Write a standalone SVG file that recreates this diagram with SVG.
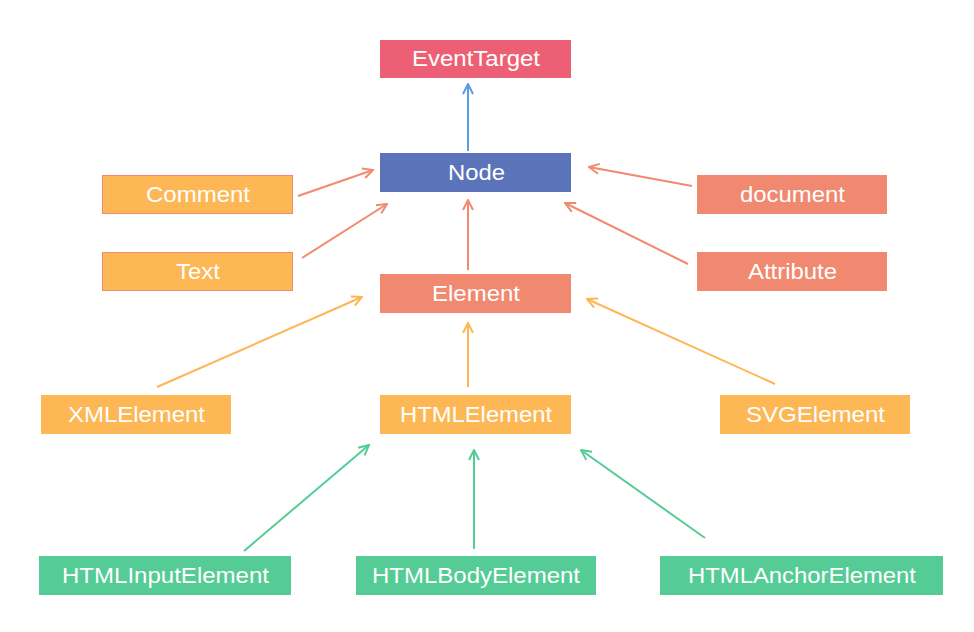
<svg xmlns="http://www.w3.org/2000/svg" width="974" height="632" viewBox="0 0 974 632">
<style>
.lbl{font-family:"Liberation Sans",Arial,sans-serif;font-size:21.5px;fill:#fff;text-anchor:middle;dominant-baseline:central}
.c{fill:none;stroke-width:2}
</style>
<defs>
<marker id="mb" viewBox="0 0 12 12" refX="11" refY="6" markerWidth="12" markerHeight="12" markerUnits="userSpaceOnUse" orient="auto"><path d="M1,1 L11,6 L1,11" fill="none" stroke="#5b9be8" stroke-width="2"/></marker>
<marker id="ms" viewBox="0 0 12 12" refX="11" refY="6" markerWidth="12" markerHeight="12" markerUnits="userSpaceOnUse" orient="auto"><path d="M1,1 L11,6 L1,11" fill="none" stroke="#f08a70" stroke-width="2"/></marker>
<marker id="my" viewBox="0 0 12 12" refX="11" refY="6" markerWidth="12" markerHeight="12" markerUnits="userSpaceOnUse" orient="auto"><path d="M1,1 L11,6 L1,11" fill="none" stroke="#fdb755" stroke-width="2"/></marker>
<marker id="mg" viewBox="0 0 12 12" refX="11" refY="6" markerWidth="12" markerHeight="12" markerUnits="userSpaceOnUse" orient="auto"><path d="M1,1 L11,6 L1,11" fill="none" stroke="#55cc95" stroke-width="2"/></marker>
</defs>
<rect width="974" height="632" fill="#fff"/>
<g id="connectors">
<line class="c" x1="468" y1="151" x2="468" y2="84" stroke="#5b9be8" marker-end="url(#mb)"/>
<line class="c" x1="298" y1="196" x2="373" y2="170" stroke="#f08a70" marker-end="url(#ms)"/>
<line class="c" x1="302" y1="258" x2="387" y2="204" stroke="#f08a70" marker-end="url(#ms)"/>
<line class="c" x1="692" y1="186" x2="589" y2="167" stroke="#f08a70" marker-end="url(#ms)"/>
<line class="c" x1="688" y1="264" x2="565" y2="203" stroke="#f08a70" marker-end="url(#ms)"/>
<line class="c" x1="468" y1="270" x2="468" y2="200" stroke="#f08a70" marker-end="url(#ms)"/>
<line class="c" x1="157" y1="387" x2="362" y2="297" stroke="#fdb755" marker-end="url(#my)"/>
<line class="c" x1="468" y1="387" x2="468" y2="323" stroke="#fdb755" marker-end="url(#my)"/>
<line class="c" x1="775" y1="384" x2="587" y2="299" stroke="#fdb755" marker-end="url(#my)"/>
<line class="c" x1="244" y1="551" x2="369" y2="445" stroke="#55cc95" marker-end="url(#mg)"/>
<line class="c" x1="474" y1="549" x2="474" y2="450" stroke="#55cc95" marker-end="url(#mg)"/>
<line class="c" x1="705" y1="538" x2="581" y2="450" stroke="#55cc95" marker-end="url(#mg)"/>
</g>
<g id="EventTarget"><rect x="380" y="40" width="191" height="38" fill="#ed5f74"/><text class="lbl" x="476" y="59" textLength="128" lengthAdjust="spacingAndGlyphs">EventTarget</text></g>
<g id="Node"><rect x="380" y="153" width="191" height="39" fill="#5b73b9"/><text class="lbl" x="476.5" y="172.5" textLength="57" lengthAdjust="spacingAndGlyphs">Node</text></g>
<g id="Comment"><rect x="102.5" y="175.5" width="190" height="38" fill="#fdb755" stroke="#f08a70"/><text class="lbl" x="198" y="194.5" textLength="104" lengthAdjust="spacingAndGlyphs">Comment</text></g>
<g id="Text"><rect x="102.5" y="252.5" width="190" height="38" fill="#fdb755" stroke="#f08a70"/><text class="lbl" x="198" y="271.5" textLength="44" lengthAdjust="spacingAndGlyphs">Text</text></g>
<g id="document"><rect x="697" y="175" width="190" height="39" fill="#f08970"/><text class="lbl" x="792.5" y="194.5" textLength="105" lengthAdjust="spacingAndGlyphs">document</text></g>
<g id="Attribute"><rect x="697" y="252" width="190" height="39" fill="#f08970"/><text class="lbl" x="792.5" y="271.5" textLength="89" lengthAdjust="spacingAndGlyphs">Attribute</text></g>
<g id="Element"><rect x="380" y="274" width="191" height="39" fill="#f08970"/><text class="lbl" x="476" y="293.5" textLength="88" lengthAdjust="spacingAndGlyphs">Element</text></g>
<g id="XMLElement"><rect x="41" y="395" width="190" height="39" fill="#fdb755"/><text class="lbl" x="136.5" y="414.5" textLength="137" lengthAdjust="spacingAndGlyphs">XMLElement</text></g>
<g id="HTMLElement"><rect x="380" y="395" width="191" height="39" fill="#fdb755"/><text class="lbl" x="476" y="414.5" textLength="152" lengthAdjust="spacingAndGlyphs">HTMLElement</text></g>
<g id="SVGElement"><rect x="720" y="395" width="190" height="39" fill="#fdb755"/><text class="lbl" x="815.5" y="414.5" textLength="139" lengthAdjust="spacingAndGlyphs">SVGElement</text></g>
<g id="HTMLInputElement"><rect x="39" y="556" width="252" height="39" fill="#55cc95"/><text class="lbl" x="165.5" y="575.5" textLength="207" lengthAdjust="spacingAndGlyphs">HTMLInputElement</text></g>
<g id="HTMLBodyElement"><rect x="356" y="556" width="240" height="39" fill="#55cc95"/><text class="lbl" x="476" y="575.5" textLength="208" lengthAdjust="spacingAndGlyphs">HTMLBodyElement</text></g>
<g id="HTMLAnchorElement"><rect x="660" y="556" width="283" height="39" fill="#55cc95"/><text class="lbl" x="802" y="575.5" textLength="228" lengthAdjust="spacingAndGlyphs">HTMLAnchorElement</text></g>
</svg>
